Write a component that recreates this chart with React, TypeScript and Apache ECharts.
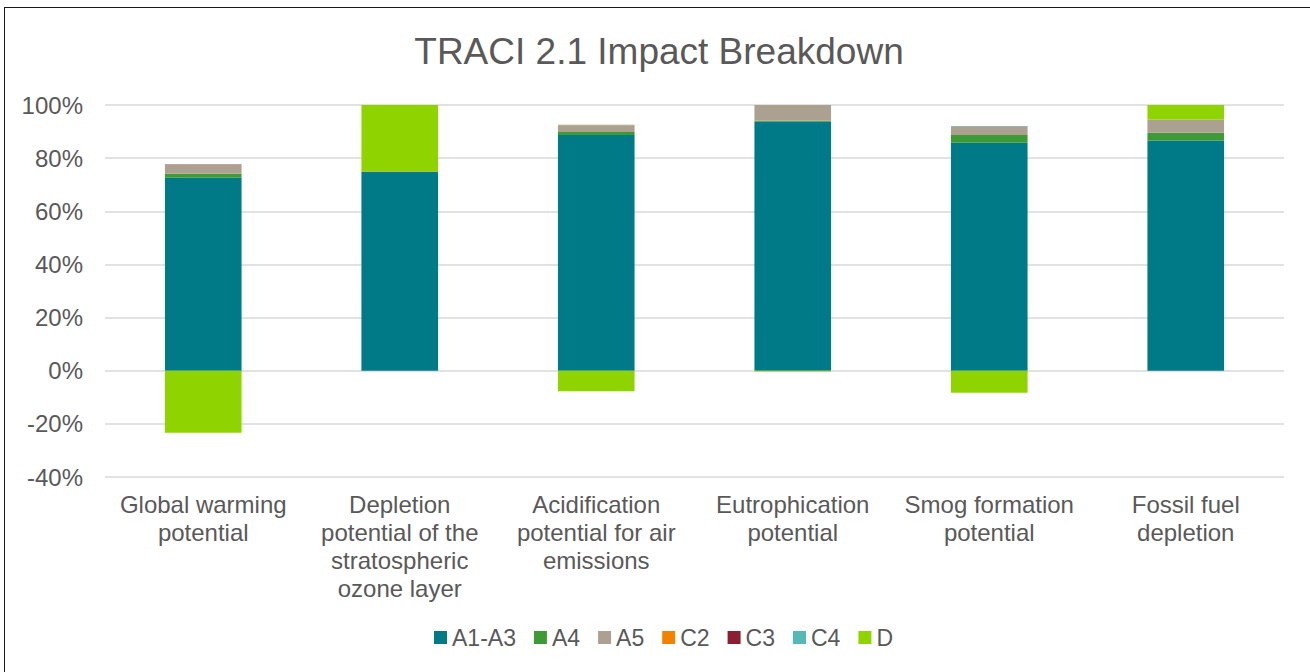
import React, { useEffect, useRef } from "react";
import * as echarts from "echarts";

const categories = [
  "Global warming\npotential",
  "Depletion\npotential of the\nstratospheric\nozone layer",
  "Acidification\npotential for air\nemissions",
  "Eutrophication\npotential",
  "Smog formation\npotential",
  "Fossil fuel\ndepletion",
];
const seriesNames = ["A1-A3", "A4", "A5", "C2", "C3", "C4", "D"];
const a1a3 = [72.6, 74.8, 88.7, 93.7, 85.8, 86.6];
const a4 = [1.5, 0.05, 1.1, 0.4, 2.9, 3.0];
const a5 = [3.5, 0.05, 2.6, 5.9, 3.1, 4.8];
const c2 = [0.05, 0.02, 0.05, 0.02, 0.05, 0.05];
const c3 = [0.02, 0.01, 0.02, 0.01, 0.02, 0.02];
const c4 = [0.05, 0.02, 0.1, 0.05, 0.2, 0.1];
const d = [-23.3, 25.2, -7.7, -0.3, -8.3, 5.6];
const colors = ["#007A87", "#3D9A36", "#ACA091", "#F08300", "#8B1E32", "#55BAB7", "#8FD400"];
const yTicks = { min: -40, max: 100, interval: 20 };

const FONT = "Liberation Sans, Arial, sans-serif";

export default function App() {
  const ref = useRef<HTMLDivElement>(null);
  useEffect(() => {
    if (!ref.current) return;
    const chart = echarts.init(ref.current, undefined, { renderer: "svg" });
    const data = [a1a3, a4, a5, c2, c3, c4, d];
    chart.setOption({
      animation: false,
      textStyle: { fontFamily: FONT },
      title: {
        text: "TRACI 2.1 Impact Breakdown",
        left: 659,
        textAlign: "center",
        top: 33,
        padding: 0,
        textStyle: { fontSize: 37, fontWeight: "normal", color: "#595959", fontFamily: FONT },
      },
      legend: {
        top: 621,
        left: 434,
        padding: [5, 0, 5, 0],
        itemWidth: 13,
        itemHeight: 13,
        itemGap: 18,
        icon: "rect",
        textStyle: { fontSize: 23, color: "#595959", fontFamily: FONT },
        data: seriesNames,
      },
      grid: { left: 105, right: 26, top: 105, bottom: 195 },
      xAxis: {
        type: "category",
        data: categories,
        axisLine: { show: false, onZero: false },
        axisTick: { show: false },
        axisLabel: { fontSize: 24, color: "#595959", lineHeight: 28, margin: 13, interval: 0, fontFamily: FONT },
      },
      yAxis: {
        type: "value",
        min: yTicks.min,
        max: yTicks.max,
        interval: yTicks.interval,
        axisLabel: { formatter: "{value}%", fontSize: 24, color: "#595959", margin: 22, fontFamily: FONT },
        splitLine: { lineStyle: { color: "#D9D9D9", width: 1.5 } },
        axisLine: { show: false },
        axisTick: { show: false },
      },
      series: seriesNames.map((n, i) => ({
        name: n,
        type: "bar",
        stack: "total",
        barWidth: "39%",
        data: data[i],
        itemStyle: { color: colors[i] },
      })),
    });
    return () => chart.dispose();
  }, []);
  return (
    <div style={{ position: "fixed", left: 0, top: 0, width: 1310, height: 672, background: "#fff", overflow: "hidden" }}>
      <div ref={ref} style={{ position: "absolute", left: 0, top: 0, width: 1310, height: 672 }} />
      <div
        style={{
          position: "absolute",
          left: 4,
          top: 7,
          width: 1400,
          height: 800,
          border: "1.5px solid #1a1a1a",
          pointerEvents: "none",
        }}
      />
    </div>
  );
}
